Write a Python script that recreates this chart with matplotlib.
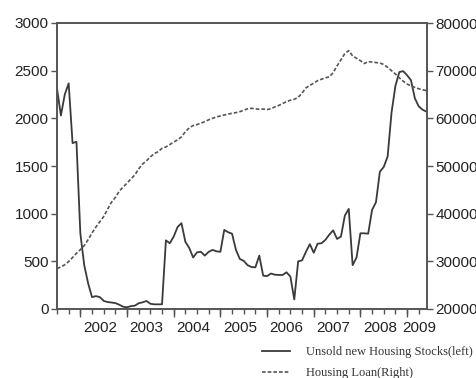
import numpy as np
import matplotlib
matplotlib.use("Agg")
import matplotlib.pyplot as plt

# Monthly data, starting July 2001
start_year = 2001.5
unsold = [2315, 2030, 2250, 2367, 1740, 1755, 794, 460, 270, 125,
          135, 125, 85, 73, 68, 62, 45, 24, 18, 30,
          35, 60, 70, 84, 55, 49, 49, 49, 720, 690,
          760, 860, 900, 705, 640, 540, 595, 600, 560, 600,
          620, 605, 600, 830, 805, 790, 620, 525, 505, 460,
          440, 437, 560, 350, 345, 372, 360, 357, 357, 385,
          340, 100, 500, 510, 600, 680, 590, 685, 690, 725,
          780, 825, 735, 760, 980, 1050, 460, 540, 794, 794,
          790, 1040, 1120, 1440, 1490, 1600, 2060, 2340, 2485, 2495,
          2452, 2400, 2210, 2125, 2090, 2070]
loan = [28500, 28800, 29300, 29950, 30800, 31700, 32450, 33300, 34550, 35950,
        37200, 38300, 39400, 40900, 42400, 43400, 44700, 45600, 46400, 47300,
        48100, 49400, 50400, 51100, 51900, 52600, 53000, 53700, 54000, 54500,
        55000, 55500, 56100, 57200, 58000, 58500, 58700, 59000, 59300, 59700,
        60000, 60300, 60500, 60700, 60900, 61050, 61200, 61400, 61700, 62000,
        62100, 62000, 61900, 61950, 61850, 62000, 62400, 62700, 63100, 63500,
        63800, 64000, 64400, 65300, 66400, 66900, 67400, 67900, 68200, 68500,
        68700, 69600, 71000, 72300, 73600, 74200, 73100, 72600, 72100, 71500,
        71900, 71800, 71700, 71600, 71300, 70700, 70000, 69300, 68500, 67800,
        67200, 66800, 66500, 66200, 66000, 65800]
year_labels = ["2002", "2003", "2004", "2005", "2006", "2007", "2008", "2009"]
left_ticks = [0, 500, 1000, 1500, 2000, 2500, 3000]
right_ticks = [20000, 30000, 40000, 50000, 60000, 70000, 80000]
label_left = "Unsold new Housing Stocks(left)"
label_right = "Housing Loan(Right)"

t = start_year + np.arange(len(unsold)) / 12.0

fig = plt.figure(figsize=(4.77, 3.78), dpi=100)
ax = fig.add_axes([57/477, 1-309/378, (427-57)/477, (309-23)/378])
ax2 = ax.twinx()

line_col = "#3a3a3a"
spine_col = "#555555"
l1, = ax.plot(t, unsold, color=line_col, lw=1.3, label=label_left)
l2, = ax2.plot(t, loan, color="#555555", lw=1.2, linestyle=(0, (2.2, 1.2)), label=label_right)

ax.set_xlim(start_year, t[-1] + 0.01)
ax.set_ylim(0, 3000)
ax2.set_ylim(20000, 80000)
ax.set_yticks(left_ticks)
ax2.set_yticks(right_ticks)

tick_font = dict(family="Liberation Sans", size=11)
ax.set_yticklabels([str(v) for v in left_ticks], fontdict=tick_font, color="#222222")
ax2.set_yticklabels([str(v) for v in right_ticks], fontdict=tick_font, color="#222222")

# x axis: labels near mid-year, quarterly minor ticks, longer ticks at year boundaries
years = [int(y) for y in year_labels]
label_pos = [y + 0.42 for y in years[:-1]] + [years[-1] + 0.27]
ax.set_xticks(label_pos)
ax.set_xticklabels(year_labels, fontdict=tick_font, color="#222222")
ax.tick_params(axis="x", which="major", length=0, pad=9)
quarters = np.arange(2001.5, 2009.5, 0.25)
ax.set_xticks(quarters, minor=True)
ax.tick_params(axis="x", which="minor", length=3.5, width=1.0, color=spine_col, direction="out")
sec = ax.secondary_xaxis("bottom")
sec.set_xticks(years[:-1] + [2009])
sec.set_xticklabels([])
sec.tick_params(length=6, width=1.0, color=spine_col, direction="out")
sec.spines["bottom"].set_visible(False)

ax.tick_params(axis="y", length=4, width=1.0, color=spine_col, pad=2, direction="out")
ax2.tick_params(axis="y", length=4, width=1.0, color=spine_col, pad=2, direction="out")

for a in (ax, ax2):
    for s in a.spines.values():
        s.set_color(spine_col)
        s.set_linewidth(1.2)

fig.legend(handles=[l1, l2], labels=[label_left, label_right],
           loc="upper left", bbox_to_anchor=(262/477, 1-346/378),
           frameon=False, borderpad=0, borderaxespad=0,
           handlelength=2.2, handletextpad=1.3, labelspacing=0.75,
           prop=dict(family="Liberation Serif", size=9), labelcolor="#333333")

fig.savefig("out.png", dpi=100)
